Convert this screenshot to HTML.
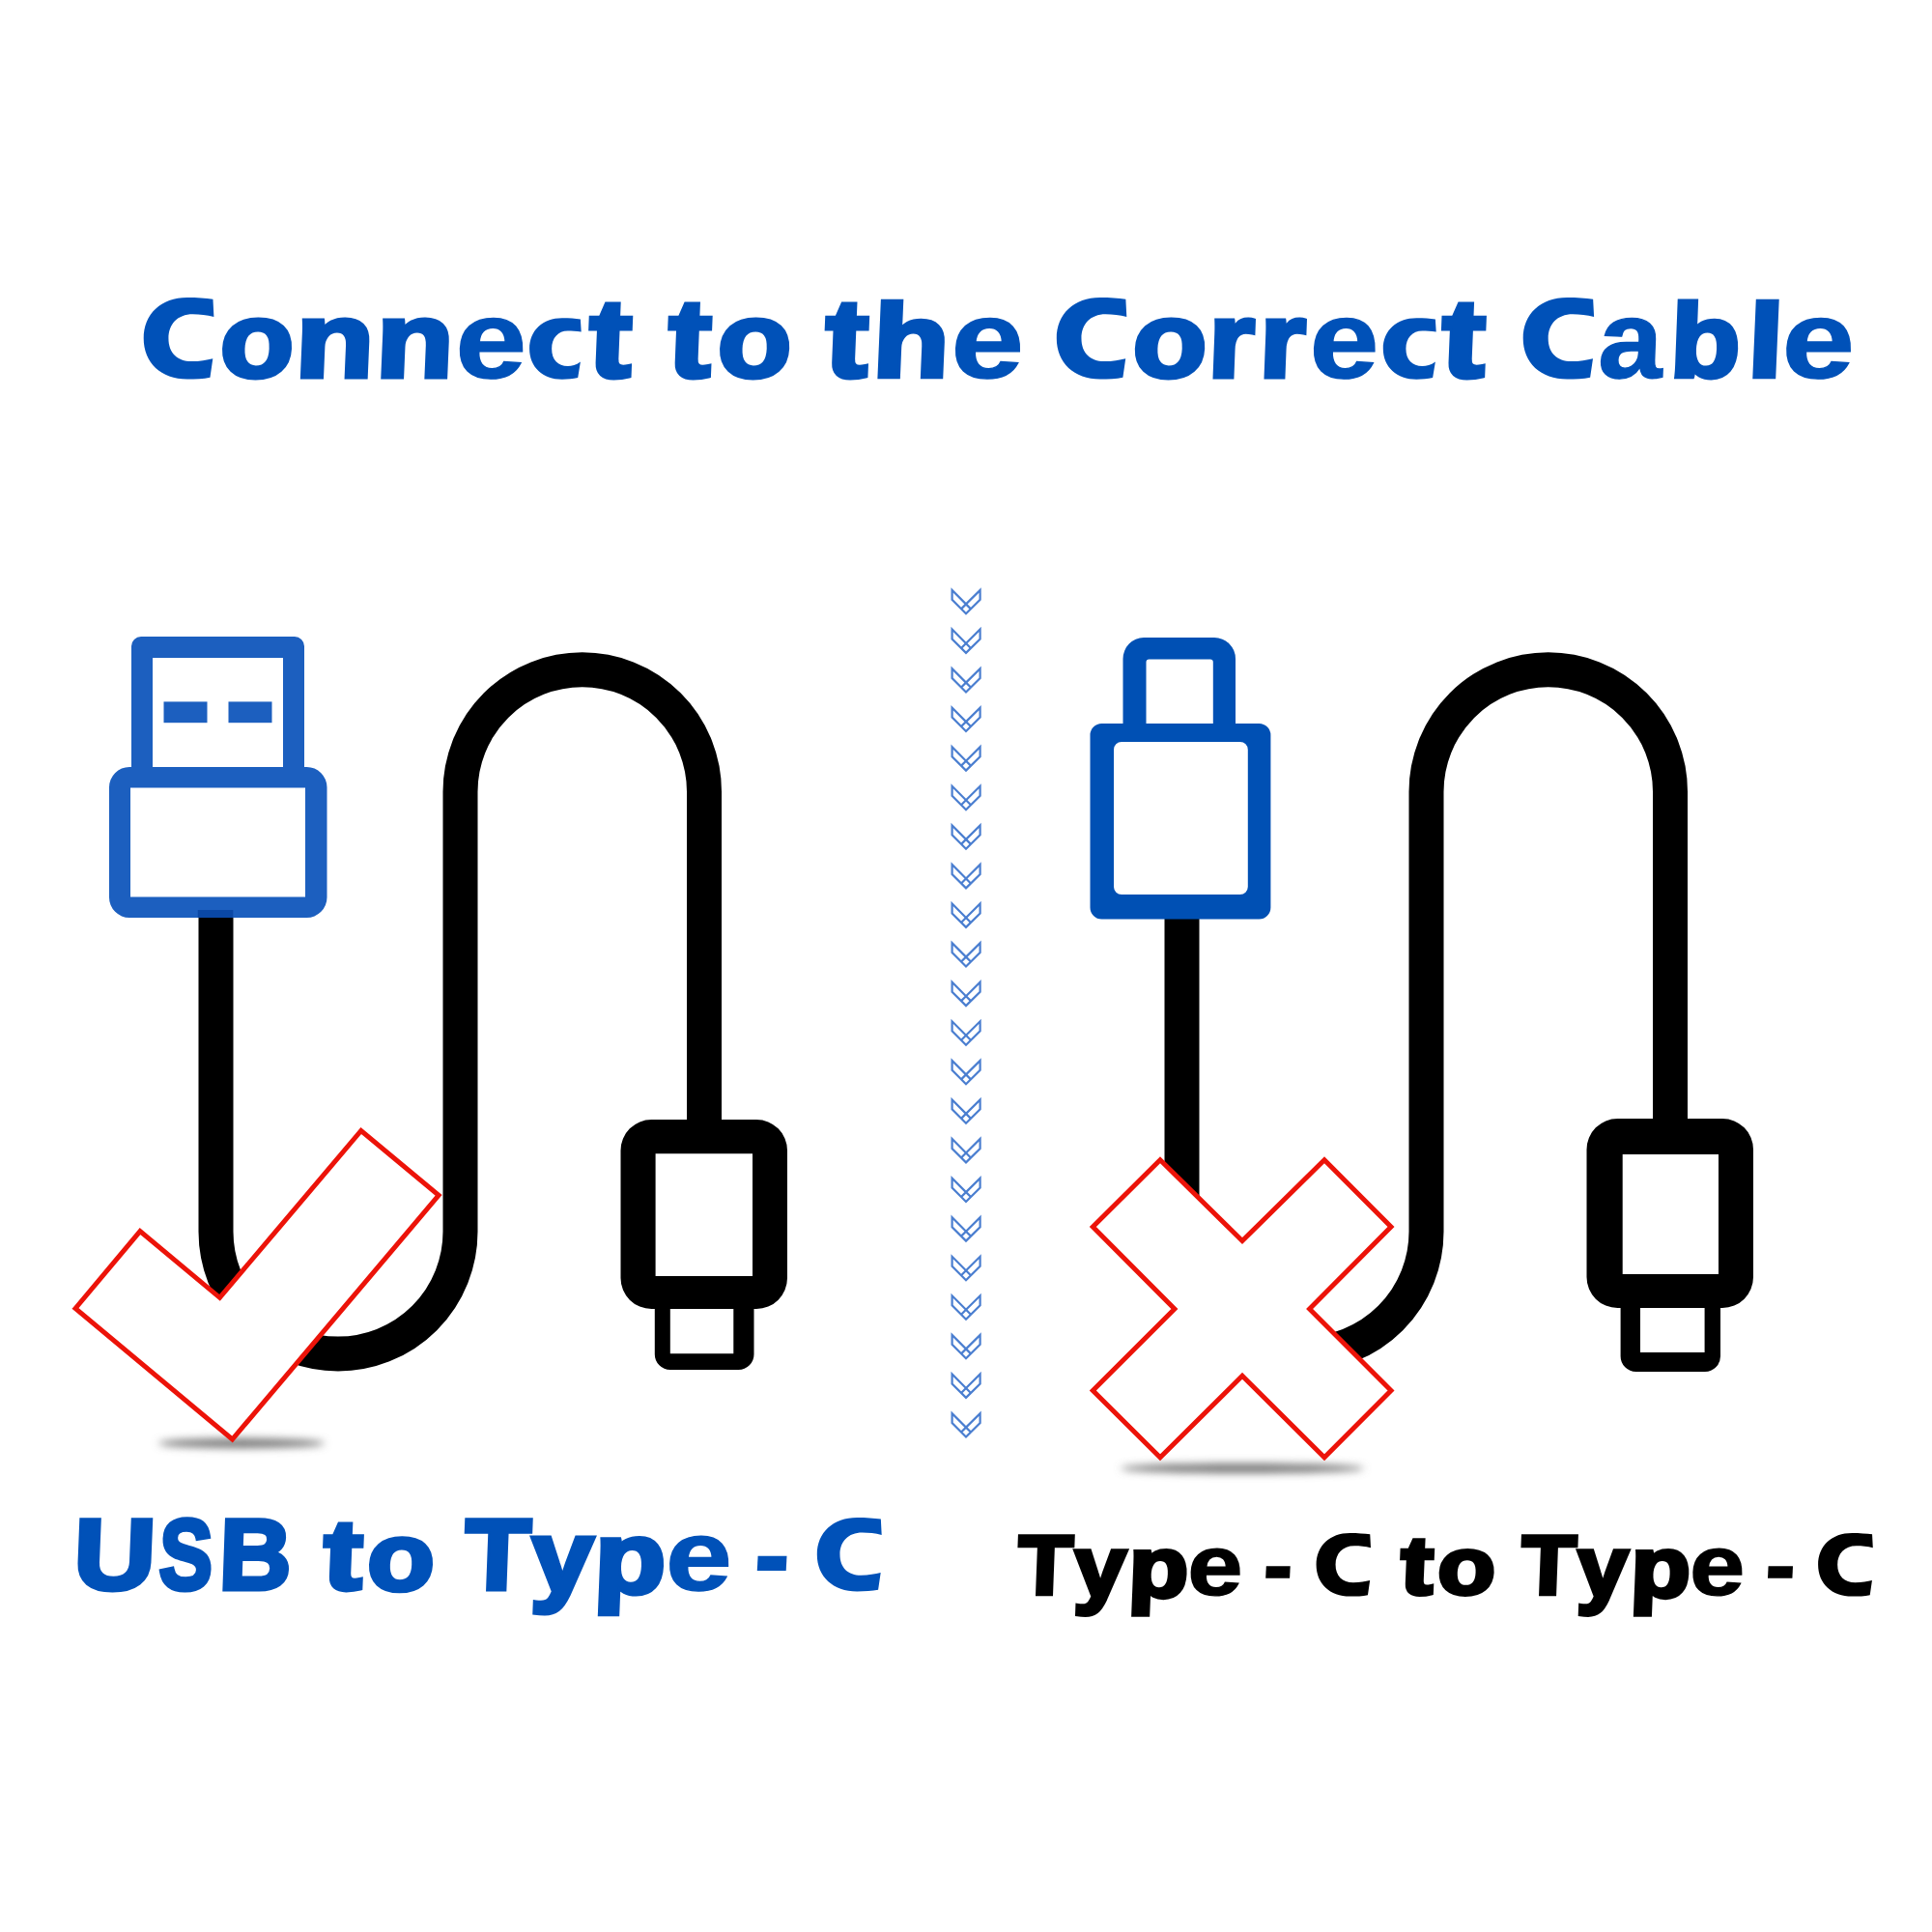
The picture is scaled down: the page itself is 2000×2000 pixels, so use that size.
<!DOCTYPE html>
<html><head><meta charset="utf-8">
<style>
html,body{margin:0;padding:0;background:#fff;}
body{width:2000px;height:2000px;position:relative;overflow:hidden;}
svg{position:absolute;left:0;top:0;}
.w{font-family:"Liberation Sans",sans-serif;font-weight:bold;stroke-linejoin:miter;paint-order:stroke;}
</style></head>
<body>
<svg width="2000" height="2000" viewBox="0 0 2000 2000">
<defs>
<filter id="blur" x="-50%" y="-200%" width="200%" height="500%"><feGaussianBlur stdDeviation="4"/></filter>
<g id="chev" fill="none" stroke="#4a7ed0" stroke-width="2.2" stroke-linejoin="miter" stroke-miterlimit="10">
<path d="M-14.4 0 V10 L0 24.4 L14.6 10 V0 L0 14.5 Z M0 14.5 L4.95 19.45 M0 14.5 L-4.95 19.45"/>
</g>
</defs>

<!-- LEFT cable -->
<path d="M223.5 942 V1275 A126.5 126.5 0 0 0 476.5 1275 V819.5 A126.25 126.25 0 0 1 729 819.5 V1170" fill="none" stroke="#000" stroke-width="36"/>
<!-- left type-c -->
<path fill="#000" fill-rule="evenodd" d="M674.5 1159 H783 A32 32 0 0 1 815 1191 V1323 A32 32 0 0 1 783 1355 H780.5 V1402 A16 16 0 0 1 764.5 1418 H693.8 A16 16 0 0 1 677.8 1402 V1355 H674.5 A32 32 0 0 1 642.5 1323 V1191 A32 32 0 0 1 674.5 1159 Z M678.6 1194.2 V1321 H779 V1194.2 Z M693.8 1355 V1401.2 H759.3 V1355 Z"/>
<!-- USB-A -->
<g fill="#1c5fbf" fill-rule="evenodd">
<path d="M146 659 H305 A10 10 0 0 1 315 669 V800 H136 V669 A10 10 0 0 1 146 659 Z M158 681 V800 H293 V681 Z"/>
<path d="M134 794 H317.5 A21 21 0 0 1 338.5 815 V929 A21 21 0 0 1 317.5 950 H134 A21 21 0 0 1 113 929 V815 A21 21 0 0 1 134 794 Z M135 815.5 V928.5 H316 V815.5 Z"/>
<rect x="169.5" y="726.4" width="45" height="21.8"/>
<rect x="236.5" y="726.4" width="45" height="21.8"/>
</g>
<rect x="204.8" y="942" width="36.5" height="8" fill="#0a48a6"/>
<!-- checkmark shadow -->
<ellipse cx="250" cy="1494" rx="86" ry="5" fill="#777" filter="url(#blur)"/>
<!-- checkmark -->
<polygon points="78,1354.5 145,1274.6 227.5,1343.3 373.8,1170.5 454.1,1237.4 240.5,1490" fill="#fff" stroke="#ec1309" stroke-width="5" stroke-linejoin="miter"/>

<!-- divider chevrons -->
<g><use href="#chev" x="1000" y="610.9"/><use href="#chev" x="1000" y="651.5"/><use href="#chev" x="1000" y="692.1"/><use href="#chev" x="1000" y="732.6"/><use href="#chev" x="1000" y="773.2"/><use href="#chev" x="1000" y="813.8"/><use href="#chev" x="1000" y="854.4"/><use href="#chev" x="1000" y="895.0"/><use href="#chev" x="1000" y="935.5"/><use href="#chev" x="1000" y="976.1"/><use href="#chev" x="1000" y="1016.7"/><use href="#chev" x="1000" y="1057.3"/><use href="#chev" x="1000" y="1097.9"/><use href="#chev" x="1000" y="1138.4"/><use href="#chev" x="1000" y="1179.0"/><use href="#chev" x="1000" y="1219.6"/><use href="#chev" x="1000" y="1260.2"/><use href="#chev" x="1000" y="1300.8"/><use href="#chev" x="1000" y="1341.3"/><use href="#chev" x="1000" y="1381.9"/><use href="#chev" x="1000" y="1422.5"/><use href="#chev" x="1000" y="1463.1"/></g>

<!-- RIGHT cable -->
<path d="M1223.5 942 V1275 A126.5 126.5 0 0 0 1476.5 1275 V819.5 A126.25 126.25 0 0 1 1729 819.5 V1170" fill="none" stroke="#000" stroke-width="36"/>
<path fill="#000" fill-rule="evenodd" d="M1674.5 1158 H1783 A32 32 0 0 1 1815 1190 V1322 A32 32 0 0 1 1783 1354 H1781 V1404 A16 16 0 0 1 1765 1420 H1693.6 A16 16 0 0 1 1677.6 1404 V1354 H1674.5 A32 32 0 0 1 1642.5 1322 V1190 A32 32 0 0 1 1674.5 1158 Z M1679.7 1195 V1319 H1779 V1195 Z M1698 1354 V1400 H1764.6 V1354 Z"/>
<!-- blue type-c -->
<g fill="#0050b4" fill-rule="evenodd">
<path d="M1184 660 H1257 A22 22 0 0 1 1279 682 V760 H1162.5 V682 A22 22 0 0 1 1184 660 Z M1189.5 682.5 A3 3 0 0 0 1186.5 685.5 V760 H1255.8 V685.5 A3 3 0 0 0 1252.8 682.5 Z"/>
<path d="M1140.5 749 H1303.4 A12 12 0 0 1 1315.4 761 V939.4 A12 12 0 0 1 1303.4 951.4 H1140.5 A12 12 0 0 1 1128.5 939.4 V761 A12 12 0 0 1 1140.5 749 Z M1161 768 A8 8 0 0 0 1153 776 V918 A8 8 0 0 0 1161 926 H1283.8 A8 8 0 0 0 1291.8 918 V776 A8 8 0 0 0 1283.8 768 Z"/>
</g>
<!-- X shadow -->
<ellipse cx="1286" cy="1520" rx="126" ry="5" fill="#777" filter="url(#blur)"/>
<!-- X mark -->
<polygon points="1201,1200.7 1286,1284.6 1371,1200.7 1440,1270 1355.6,1355 1440,1439.6 1371,1508.7 1286,1424.3 1201,1508.7 1131.3,1439.6 1215.9,1355 1131.3,1270" fill="#fff" stroke="#ec1309" stroke-width="5" stroke-linejoin="miter"/>

<path transform="matrix(72.700 0 0 84.600 148.70 308.00)" fill="#0051b8" d="M0.987 0.022 L1 0.235 C0.9 0.215 0.8 0.205 0.7 0.205 C0.48 0.205 0.354 0.33 0.354 0.5 C0.354 0.68 0.48 0.781 0.68 0.781 C0.8 0.781 0.9 0.765 0.985 0.747 L0.946 0.978 C0.85 0.995 0.74 1 0.62 1 C0.25 1 0 0.8 0 0.5 C0 0.2 0.25 0 0.62 0 C0.76 0 0.88 0.008 0.987 0.022 Z"/>
<text transform="translate(226.65 390.38) scale(1.0848 0.9559) skewX(-2.0)" font-size="115.10" fill="#0051b8" stroke="#0051b8" stroke-width="5.0" class="w">o</text>
<text transform="translate(304.39 390.29) scale(1.1613 0.9545) skewX(-2.0)" font-size="115.10" fill="#0051b8" stroke="#0051b8" stroke-width="5.0" class="w">n</text>
<text transform="translate(388.07 390.29) scale(1.1452 0.9545) skewX(-2.0)" font-size="115.10" fill="#0051b8" stroke="#0051b8" stroke-width="5.0" class="w">n</text>
<text transform="translate(470.17 391.29) scale(1.1051 0.9552) skewX(-2.0)" font-size="119.82" fill="#0051b8" stroke="#0051b8" stroke-width="1.5" class="w">e</text>
<path transform="matrix(53.600 0 0 63.500 548.10 329.20)" fill="#0051b8" d="M0.985 0.02 L1 0.227 C0.9 0.215 0.82 0.21 0.74 0.21 C0.55 0.21 0.43 0.33 0.43 0.5 C0.43 0.68 0.55 0.784 0.74 0.784 C0.82 0.784 0.9 0.77 0.985 0.715 L0.935 0.975 C0.84 0.995 0.74 1 0.63 1 C0.26 1 0 0.8 0 0.5 C0 0.2 0.26 0 0.63 0 C0.78 0 0.88 0.008 0.985 0.02 Z"/>
<text transform="translate(608.56 390.20) scale(1.1425 0.9987) skewX(-2.0)" font-size="115.10" fill="#0051b8" stroke="#0051b8" stroke-width="5.0" class="w">t</text>
<text transform="translate(690.55 390.20) scale(1.1525 0.9987) skewX(-2.0)" font-size="115.10" fill="#0051b8" stroke="#0051b8" stroke-width="5.0" class="w">t</text>
<text transform="translate(741.74 390.38) scale(1.0864 0.9559) skewX(-2.0)" font-size="115.10" fill="#0051b8" stroke="#0051b8" stroke-width="5.0" class="w">o</text>
<text transform="translate(853.05 390.20) scale(1.1525 0.9987) skewX(-2.0)" font-size="115.10" fill="#0051b8" stroke="#0051b8" stroke-width="5.0" class="w">t</text>
<text transform="translate(902.36 390.33) scale(1.1274 0.9341) skewX(-2.0)" font-size="115.10" fill="#0051b8" stroke="#0051b8" stroke-width="5.0" class="w">h</text>
<text transform="translate(983.14 391.29) scale(1.1322 0.9552) skewX(-2.0)" font-size="119.82" fill="#0051b8" stroke="#0051b8" stroke-width="1.5" class="w">e</text>
<path transform="matrix(72.500 0 0 84.600 1093.80 308.00)" fill="#0051b8" d="M0.987 0.022 L1 0.235 C0.9 0.215 0.8 0.205 0.7 0.205 C0.48 0.205 0.354 0.33 0.354 0.5 C0.354 0.68 0.48 0.781 0.68 0.781 C0.8 0.781 0.9 0.765 0.985 0.747 L0.946 0.978 C0.85 0.995 0.74 1 0.62 1 C0.25 1 0 0.8 0 0.5 C0 0.2 0.25 0 0.62 0 C0.76 0 0.88 0.008 0.987 0.022 Z"/>
<text transform="translate(1171.53 390.38) scale(1.0909 0.9559) skewX(-2.0)" font-size="115.10" fill="#0051b8" stroke="#0051b8" stroke-width="5.0" class="w">o</text>
<text transform="translate(1249.73 390.29) scale(1.0535 0.9545) skewX(-2.0)" font-size="115.10" fill="#0051b8" stroke="#0051b8" stroke-width="5.0" class="w">r</text>
<text transform="translate(1302.83 390.29) scale(1.0535 0.9545) skewX(-2.0)" font-size="115.10" fill="#0051b8" stroke="#0051b8" stroke-width="5.0" class="w">r</text>
<text transform="translate(1354.53 391.29) scale(1.0746 0.9552) skewX(-2.0)" font-size="119.82" fill="#0051b8" stroke="#0051b8" stroke-width="1.5" class="w">e</text>
<path transform="matrix(54.900 0 0 63.500 1431.80 329.20)" fill="#0051b8" d="M0.985 0.02 L1 0.227 C0.9 0.215 0.82 0.21 0.74 0.21 C0.55 0.21 0.43 0.33 0.43 0.5 C0.43 0.68 0.55 0.784 0.74 0.784 C0.82 0.784 0.9 0.77 0.985 0.715 L0.935 0.975 C0.84 0.995 0.74 1 0.63 1 C0.26 1 0 0.8 0 0.5 C0 0.2 0.26 0 0.63 0 C0.78 0 0.88 0.008 0.985 0.02 Z"/>
<text transform="translate(1491.24 390.20) scale(1.1650 0.9987) skewX(-2.0)" font-size="115.10" fill="#0051b8" stroke="#0051b8" stroke-width="5.0" class="w">t</text>
<path transform="matrix(73.400 0 0 84.600 1576.70 308.00)" fill="#0051b8" d="M0.987 0.022 L1 0.235 C0.9 0.215 0.8 0.205 0.7 0.205 C0.48 0.205 0.354 0.33 0.354 0.5 C0.354 0.68 0.48 0.781 0.68 0.781 C0.8 0.781 0.9 0.765 0.985 0.747 L0.946 0.978 C0.85 0.995 0.74 1 0.62 1 C0.25 1 0 0.8 0 0.5 C0 0.2 0.25 0 0.62 0 C0.76 0 0.88 0.008 0.987 0.022 Z"/>
<text transform="translate(1653.40 391.29) scale(0.9985 0.9552) skewX(-2.0)" font-size="119.82" fill="#0051b8" stroke="#0051b8" stroke-width="1.5" class="w">a</text>
<text transform="translate(1727.95 390.46) scale(1.0297 0.9356) skewX(-2.0)" font-size="115.10" fill="#0051b8" stroke="#0051b8" stroke-width="5.0" class="w">b</text>
<text transform="translate(1807.95 390.33) scale(1.1500 0.9341) skewX(-2.0)" font-size="115.10" fill="#0051b8" stroke="#0051b8" stroke-width="5.0" class="w">l</text>
<text transform="translate(1843.46 391.29) scale(1.1271 0.9552) skewX(-2.0)" font-size="119.82" fill="#0051b8" stroke="#0051b8" stroke-width="1.5" class="w">e</text>
<text transform="translate(75.35 1645.40) scale(1.1294 1.0000) skewX(-2.0)" font-size="103.51" fill="#0051b8" stroke="#0051b8" stroke-width="5.0" class="w">U</text>
<text transform="translate(164.00 1645.40) scale(0.8000 1.0000) skewX(-2.0)" font-size="103.51" fill="#0051b8" stroke="#0051b8" stroke-width="5.0" class="w">S</text>
<text transform="translate(226.01 1645.40) scale(0.9971 1.0000) skewX(-2.0)" font-size="103.51" fill="#0051b8" stroke="#0051b8" stroke-width="5.0" class="w">B</text>
<text transform="translate(333.70 1645.42) scale(1.1649 0.9918) skewX(-2.0)" font-size="103.51" fill="#0051b8" stroke="#0051b8" stroke-width="5.0" class="w">t</text>
<text transform="translate(379.31 1645.53) scale(1.0983 0.9574) skewX(-2.0)" font-size="103.51" fill="#0051b8" stroke="#0051b8" stroke-width="5.0" class="w">o</text>
<text transform="translate(479.93 1645.40) scale(1.0682 1.0000) skewX(-2.0)" font-size="103.51" fill="#0051b8" stroke="#0051b8" stroke-width="5.0" class="w">T</text>
<text transform="translate(548.90 1648.28) scale(1.1016 1.0224) skewX(-2.0)" font-size="103.51" fill="#0051b8" stroke="#0051b8" stroke-width="5.0" class="w">y</text>
<text transform="translate(614.24 1648.58) scale(1.1655 1.0100) skewX(-2.0)" font-size="103.51" fill="#0051b8" stroke="#0051b8" stroke-width="5.0" class="w">p</text>
<text transform="translate(688.11 1646.49) scale(1.1377 0.9574) skewX(-2.0)" font-size="108.23" fill="#0051b8" stroke="#0051b8" stroke-width="1.5" class="w">e</text>
<path transform="matrix(66.900 0 0 76.500 845.80 1570.90)" fill="#0051b8" d="M0.987 0.022 L1 0.235 C0.9 0.215 0.8 0.205 0.7 0.205 C0.48 0.205 0.354 0.33 0.354 0.5 C0.354 0.68 0.48 0.781 0.68 0.781 C0.8 0.781 0.9 0.765 0.985 0.747 L0.946 0.978 C0.85 0.995 0.74 1 0.62 1 C0.25 1 0 0.8 0 0.5 C0 0.2 0.25 0 0.62 0 C0.76 0 0.88 0.008 0.987 0.022 Z"/>
<text transform="translate(1053.10 1650.20) scale(1.0625 1.0000) skewX(-2.0)" font-size="86.53" fill="#000000" stroke="#000000" stroke-width="4.5" class="w">T</text>
<text transform="translate(1111.30 1652.96) scale(1.1019 1.0367) skewX(-2.0)" font-size="86.53" fill="#000000" stroke="#000000" stroke-width="4.5" class="w">y</text>
<text transform="translate(1167.50 1653.26) scale(1.1653 1.0217) skewX(-2.0)" font-size="86.53" fill="#000000" stroke="#000000" stroke-width="4.5" class="w">p</text>
<text transform="translate(1228.46 1651.28) scale(1.1109 0.9615) skewX(-2.0)" font-size="92.19" fill="#000000" stroke="#000000" stroke-width="1.5" class="w">e</text>
<path transform="matrix(56.400 0 0 65.700 1362.60 1586.90)" fill="#000000" d="M0.987 0.022 L1 0.235 C0.9 0.215 0.8 0.205 0.7 0.205 C0.48 0.205 0.354 0.33 0.354 0.5 C0.354 0.68 0.48 0.781 0.68 0.781 C0.8 0.781 0.9 0.765 0.985 0.747 L0.946 0.978 C0.85 0.995 0.74 1 0.62 1 C0.25 1 0 0.8 0 0.5 C0 0.2 0.25 0 0.62 0 C0.76 0 0.88 0.008 0.987 0.022 Z"/>
<text transform="translate(1449.00 1650.25) scale(1.1613 0.9839) skewX(-2.0)" font-size="86.53" fill="#000000" stroke="#000000" stroke-width="4.5" class="w">t</text>
<text transform="translate(1487.55 1650.32) scale(1.1260 0.9615) skewX(-2.0)" font-size="86.53" fill="#000000" stroke="#000000" stroke-width="4.5" class="w">o</text>
<text transform="translate(1573.90 1650.20) scale(1.0643 1.0000) skewX(-2.0)" font-size="86.53" fill="#000000" stroke="#000000" stroke-width="4.5" class="w">T</text>
<text transform="translate(1632.08 1652.96) scale(1.0792 1.0367) skewX(-2.0)" font-size="86.53" fill="#000000" stroke="#000000" stroke-width="4.5" class="w">y</text>
<text transform="translate(1687.20 1653.26) scale(1.1653 1.0217) skewX(-2.0)" font-size="86.53" fill="#000000" stroke="#000000" stroke-width="4.5" class="w">p</text>
<text transform="translate(1748.26 1651.28) scale(1.1109 0.9615) skewX(-2.0)" font-size="92.19" fill="#000000" stroke="#000000" stroke-width="1.5" class="w">e</text>
<path transform="matrix(56.700 0 0 65.700 1882.10 1586.90)" fill="#000000" d="M0.987 0.022 L1 0.235 C0.9 0.215 0.8 0.205 0.7 0.205 C0.48 0.205 0.354 0.33 0.354 0.5 C0.354 0.68 0.48 0.781 0.68 0.781 C0.8 0.781 0.9 0.765 0.985 0.747 L0.946 0.978 C0.85 0.995 0.74 1 0.62 1 C0.25 1 0 0.8 0 0.5 C0 0.2 0.25 0 0.62 0 C0.76 0 0.88 0.008 0.987 0.022 Z"/>
<polygon points="784.6,1610.8 814.5,1610.8 813.7,1625.9 783.8,1625.9" fill="#0051b8"/>
<polygon points="1310.8,1621.2 1335.7,1621.2 1335.1,1633.8 1310.2,1633.8" fill="#000"/>
<polygon points="1830.6,1621.2 1856,1621.2 1855.4,1633.8 1830,1633.8" fill="#000"/>
</svg>
<script>
</script>
</body></html>
